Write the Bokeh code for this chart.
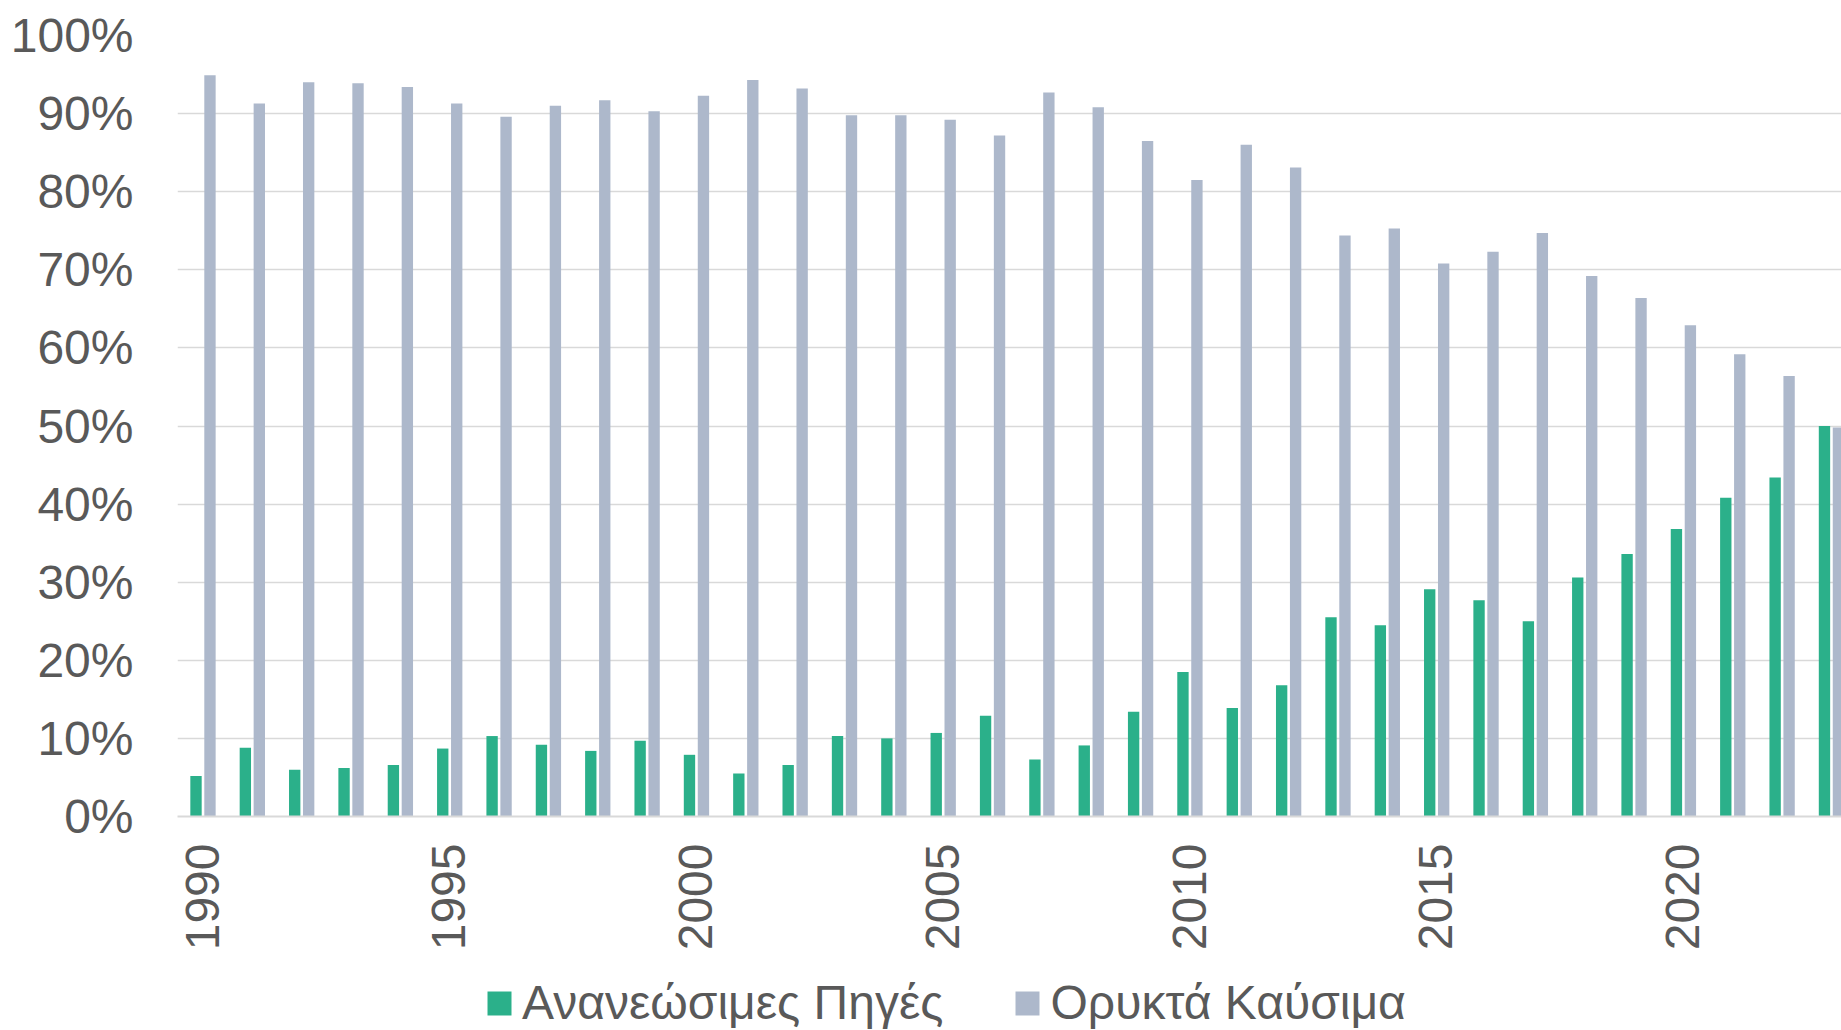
from bokeh.plotting import figure
from bokeh.models import (Range1d, FixedTicker, NumeralTickFormatter, Legend,
                          LegendItem, ColumnDataSource)
from bokeh.layouts import column
from bokeh.embed import file_html
from bokeh.resources import INLINE
import math

years = list(range(1990, 2024))
renewables = [5.2, 8.8, 6.0, 6.2, 6.6, 8.7, 10.3, 9.2, 8.4, 9.7,
              7.9, 5.5, 6.6, 10.3, 10.0, 10.7, 12.9, 7.3, 9.1, 13.4,
              18.5, 13.9, 16.8, 25.5, 24.5, 29.1, 27.7, 25.0, 30.6, 33.6,
              36.8, 40.8, 43.4, 50.0]
fossil = [94.9, 91.3, 94.0, 93.9, 93.4, 91.3, 89.6, 91.0, 91.7, 90.3,
          92.3, 94.3, 93.2, 89.8, 89.8, 89.2, 87.2, 92.7, 90.8, 86.5,
          81.5, 86.0, 83.1, 74.4, 75.3, 70.8, 72.3, 74.7, 69.2, 66.4,
          62.9, 59.2, 56.4, 49.8]
series_names = ["Ανανεώσιμες Πηγές", "Ορυκτά Καύσιμα"]
y_ticks = [0, 10, 20, 30, 40, 50, 60, 70, 80, 90, 100]
x_ticks = [1990, 1995, 2000, 2005, 2010, 2015, 2020]

GREEN = "#2bb08a"
GRAY = "#adb8cb"
TEXT = "#595959"
FONT = "Liberation Sans"
FS = "48px"

bar_w = 0.23
off_g = -0.125
off_f = 0.158

src_r = ColumnDataSource(dict(x=[y + off_g for y in years], top=[v / 100 for v in renewables]))
src_f = ColumnDataSource(dict(x=[y + off_f for y in years], top=[v / 100 for v in fossil]))

p = figure(width=1841, height=968, output_backend="svg", toolbar_location=None,
           x_range=Range1d(1989.5, 2023.22), y_range=Range1d(0, 1.0),
           min_border_left=177, min_border_right=0, min_border_top=35,
           min_border_bottom=152)
p.outline_line_color = None
p.background_fill_color = "white"

p.vbar(x="x", top="top", bottom=0, width=bar_w, source=src_r,
       fill_color=GREEN, line_color=None)
p.vbar(x="x", top="top", bottom=0, width=bar_w, source=src_f,
       fill_color=GRAY, line_color=None)

# axes
p.yaxis.ticker = FixedTicker(ticks=[t / 100 for t in y_ticks])
p.yaxis.formatter = NumeralTickFormatter(format="0%")
p.yaxis.axis_line_color = None
p.yaxis.major_tick_line_color = None
p.yaxis.minor_tick_line_color = None
p.yaxis.major_label_text_font = FONT
p.yaxis.major_label_text_font_size = FS
p.yaxis.major_label_text_color = TEXT
p.yaxis.major_label_standoff = 38

p.xaxis.ticker = FixedTicker(ticks=x_ticks)
p.xaxis.axis_line_color = "#d9d9d9"
p.xaxis.axis_line_width = 2
p.xaxis.major_tick_line_color = None
p.xaxis.minor_tick_line_color = None
p.xaxis.major_label_orientation = math.pi / 2
p.xaxis.major_label_text_font = FONT
p.xaxis.major_label_text_font_size = FS
p.xaxis.major_label_text_color = TEXT
p.xaxis.major_label_standoff = 21

p.xgrid.grid_line_color = None
p.ygrid.grid_line_color = "#d9d9d9"
p.ygrid.grid_line_width = 1.5

# legend strip below the chart (proxy renderers kept outside its visible range)
lg = figure(width=1841, height=62, output_backend="svg", toolbar_location=None,
            x_range=Range1d(0, 1), y_range=Range1d(0, 1),
            min_border_left=177, min_border_right=0, min_border_top=0,
            min_border_bottom=0)
lg.outline_line_color = None
lg.axis.visible = False
lg.grid.visible = False
g1 = lg.vbar(x="x", top="top", bottom="bottom", width=0.01,
             source=ColumnDataSource(dict(x=[-5.0], top=[-5.0], bottom=[-6.0])),
             fill_color=GREEN, line_color=None)
g2 = lg.vbar(x="x", top="top", bottom="bottom", width=0.01,
             source=ColumnDataSource(dict(x=[-5.0], top=[-5.0], bottom=[-6.0])),
             fill_color=GRAY, line_color=None)
legend = Legend(items=[LegendItem(label=series_names[0], renderers=[g1], index=0),
                       LegendItem(label=series_names[1], renderers=[g2], index=0)],
                orientation="horizontal", location=(307, 0),
                glyph_width=30, glyph_height=30, label_standoff=8, spacing=69,
                label_text_font=FONT, label_text_font_size=FS,
                label_text_color=TEXT, padding=0, margin=0,
                border_line_color=None, background_fill_alpha=0)
lg.add_layout(legend, "center")

layout = column(p, lg, spacing=0)
open("out.html", "w").write(file_html(layout, INLINE))
